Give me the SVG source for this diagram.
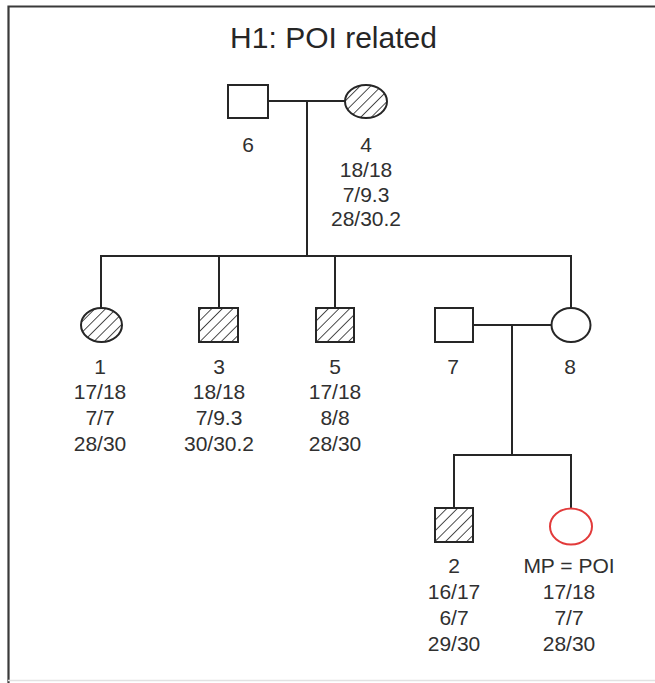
<svg xmlns="http://www.w3.org/2000/svg" width="655" height="683" viewBox="0 0 655 683">
  <defs>
    <pattern id="hatch" width="7.5" height="7.5" patternUnits="userSpaceOnUse" patternTransform="rotate(45)">
      <rect width="7.5" height="7.5" fill="#ffffff"/>
      <line x1="0" y1="0" x2="0" y2="7.5" stroke="#222" stroke-width="1.6"/>
    </pattern>
  </defs>
  <style>
    .line { stroke: #262626; stroke-width: 2; fill: none; }
    .shape { stroke: #262626; stroke-width: 2; fill: #ffffff; }
    .affected { fill: url(#hatch); }
    .proband { stroke: #e23a3a; stroke-width: 2; fill: #ffffff; }
    .lbl { font-family: "Liberation Sans", Arial, sans-serif; font-size: 21px; fill: #303030; text-anchor: middle; }
    .title { font-family: "Liberation Sans", Arial, sans-serif; font-size: 30px; fill: #262626; text-anchor: middle; }
  </style>

  <rect x="0" y="0" width="655" height="683" fill="#ffffff"/>
  <!-- outer frame -->
  <path d="M8.5,683 V6.5 H655" stroke="#3a3a3a" stroke-width="2.2" fill="none"/>
  <line x1="8" y1="680.5" x2="655" y2="680.5" stroke="#e2e2e2" stroke-width="1.5"/>

  <text class="title" x="333.5" y="48">H1: POI related</text>

  <g id="connectors">
    <!-- couple 6 + 4 -->
    <line class="line" x1="268" y1="101" x2="345" y2="101"/>
    <line class="line" x1="307" y1="101" x2="307" y2="256"/>
    <!-- sibship line -->
    <line class="line" x1="100" y1="256" x2="572" y2="256"/>
    <line class="line" x1="101" y1="256" x2="101" y2="308"/>
    <line class="line" x1="219" y1="256" x2="219" y2="308"/>
    <line class="line" x1="335" y1="256" x2="335" y2="308"/>
    <line class="line" x1="571" y1="256" x2="571" y2="308"/>
    <!-- couple 7 + 8 -->
    <line class="line" x1="473" y1="325" x2="551" y2="325"/>
    <line class="line" x1="512" y1="325" x2="512" y2="455"/>
    <line class="line" x1="453" y1="455" x2="572" y2="455"/>
    <line class="line" x1="454" y1="455" x2="454" y2="508"/>
    <line class="line" x1="571" y1="455" x2="571" y2="508"/>
  </g>

  <g id="node-6">
    <rect class="shape" x="228" y="85" width="40" height="33"/>
    <text class="lbl" x="248" y="152">6</text>
  </g>

  <g id="node-4">
    <ellipse class="shape affected" cx="366" cy="101.5" rx="21" ry="16.5"/>
    <text class="lbl" x="366" y="152">4</text>
    <text class="lbl" x="366" y="177">18/18</text>
    <text class="lbl" x="366" y="201.5">7/9.3</text>
    <text class="lbl" x="366" y="226">28/30.2</text>
  </g>

  <g id="node-1">
    <ellipse class="shape affected" cx="101.5" cy="325" rx="20.5" ry="17"/>
    <text class="lbl" x="100" y="374">1</text>
    <text class="lbl" x="100" y="399">17/18</text>
    <text class="lbl" x="100" y="424.5">7/7</text>
    <text class="lbl" x="100" y="450.5">28/30</text>
  </g>

  <g id="node-3">
    <rect class="shape affected" x="199" y="308" width="39" height="34"/>
    <text class="lbl" x="219" y="374">3</text>
    <text class="lbl" x="219" y="399">18/18</text>
    <text class="lbl" x="219" y="424.5">7/9.3</text>
    <text class="lbl" x="219" y="450.5">30/30.2</text>
  </g>

  <g id="node-5">
    <rect class="shape affected" x="316" y="308" width="38" height="34"/>
    <text class="lbl" x="335" y="374">5</text>
    <text class="lbl" x="335" y="399">17/18</text>
    <text class="lbl" x="335" y="424.5">8/8</text>
    <text class="lbl" x="335" y="450.5">28/30</text>
  </g>

  <g id="node-7">
    <rect class="shape" x="435" y="308" width="38" height="34"/>
    <text class="lbl" x="453" y="374">7</text>
  </g>

  <g id="node-8">
    <ellipse class="shape" cx="571" cy="325" rx="19.5" ry="17"/>
    <text class="lbl" x="570" y="374">8</text>
  </g>

  <g id="node-2">
    <rect class="shape affected" x="435" y="508" width="38" height="34"/>
    <text class="lbl" x="454" y="573">2</text>
    <text class="lbl" x="454" y="599">16/17</text>
    <text class="lbl" x="454" y="625">6/7</text>
    <text class="lbl" x="454" y="651">29/30</text>
  </g>

  <g id="node-mp">
    <ellipse class="proband" cx="571" cy="526.5" rx="21" ry="18"/>
    <text class="lbl" x="569" y="573">MP = POI</text>
    <text class="lbl" x="569" y="599">17/18</text>
    <text class="lbl" x="569" y="625">7/7</text>
    <text class="lbl" x="569" y="651">28/30</text>
  </g>
</svg>
